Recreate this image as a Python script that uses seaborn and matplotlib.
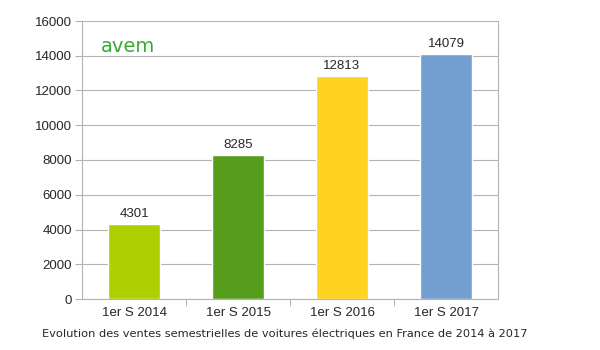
import matplotlib
matplotlib.use("Agg")
import matplotlib.pyplot as plt
import seaborn as sns
import pandas as pd

categories = ["1er S 2014", "1er S 2015", "1er S 2016", "1er S 2017"]
values = [4301, 8285, 12813, 14079]
colors = ["#aecf00", "#579d1c", "#ffd320", "#729fcf"]
yticks = list(range(0, 16001, 2000))
caption = "Evolution des ventes semestrielles de voitures électriques en France de 2014 à 2017"

sns.set_theme(style="white")
plt.rcParams['font.family'] = ['Liberation Sans', 'DejaVu Sans']

df = pd.DataFrame({"cat": categories, "val": values})
fig = plt.figure(figsize=(6, 3.5), dpi=100)
ax = fig.add_axes([82/600, 51/350, 416/600, 278/350])
sns.barplot(data=df, x="cat", y="val", hue="cat", palette=colors, width=0.5,
            ax=ax, legend=False, saturation=1)
ax.set_ylim(0, 16000)
ax.set_xlim(-0.5, 3.5)
ax.set_yticks(yticks)
ax.set_yticklabels([str(t) for t in yticks], fontsize=9.5)
ax.set_xticks(range(len(categories)))
ax.set_xticklabels(categories, fontsize=9.5)
ax.set_xlabel("")
ax.set_ylabel("")
ax.yaxis.grid(True, color="#b3b3b3", linewidth=0.8)
ax.set_axisbelow(True)
for s in ["left", "right", "bottom"]:
    ax.spines[s].set_visible(True)
    ax.spines[s].set_color("#b3b3b3")
    ax.spines[s].set_linewidth(0.8)
ax.spines["top"].set_visible(False)
ax.tick_params(axis="y", length=5, color="#b3b3b3", width=0.8, left=True, pad=2)
ax.tick_params(axis="x", length=0, pad=6)
ax.set_xticks([0.5, 1.5, 2.5], minor=True)
ax.tick_params(axis="x", which="minor", length=5, color="#b3b3b3", width=0.8, bottom=True)

for c in ax.containers:
    ax.bar_label(c, fontsize=9.5, padding=3)

fig.text(128/600, 1 - 46/350, "avem", color="#3aaa35", fontsize=14, ha="center", va="center",
         family="DejaVu Sans")
fig.text(285/600, 1 - 334/350, caption, fontsize=8.2, ha="center", va="center", family="DejaVu Sans")

fig.savefig("out.png", dpi=100, facecolor="white")
